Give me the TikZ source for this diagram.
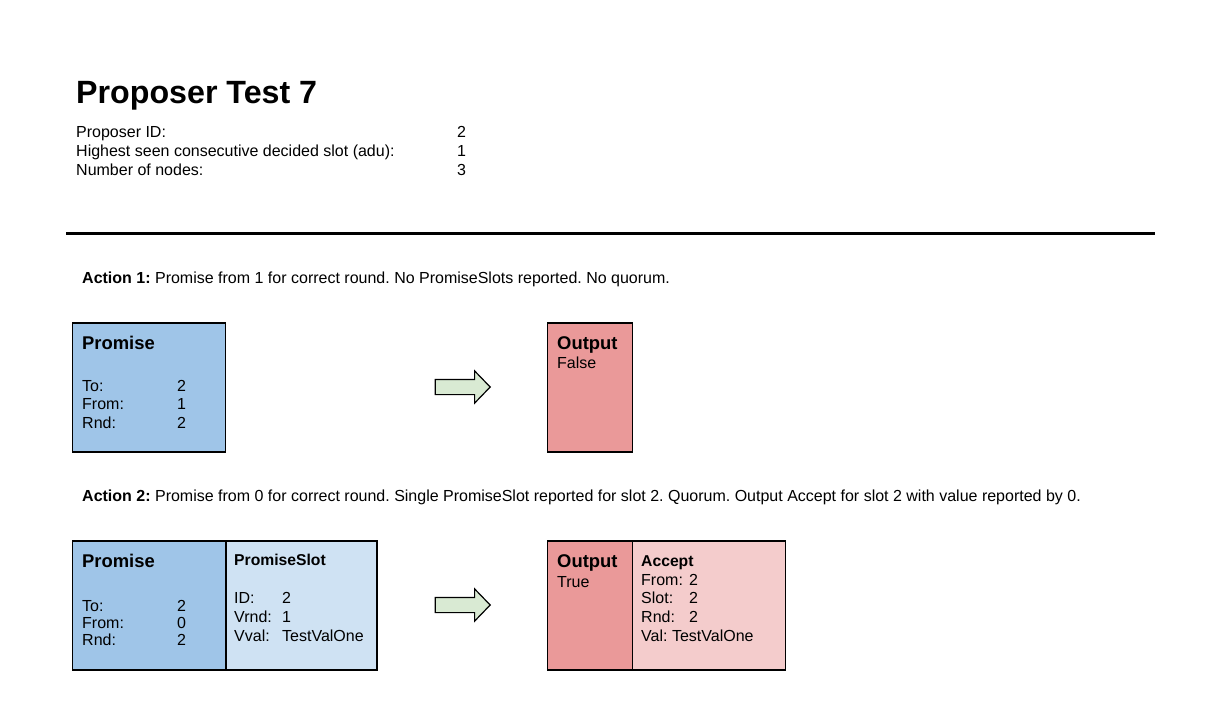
\documentclass[tikz,border=0pt]{standalone}
\usepackage{fontspec}
\setmainfont{Liberation Sans}
\usetikzlibrary{shapes.arrows}
\definecolor{promiseblue}{HTML}{9FC5E8}
\definecolor{slotblue}{HTML}{CFE2F3}
\definecolor{outred}{HTML}{EA9999}
\definecolor{acceptred}{HTML}{F4CCCC}
\definecolor{arrowgreen}{HTML}{D9EAD3}
\frenchspacing
\begin{document}
\begin{tikzpicture}[x=1pt, y=-1pt,
    msgbox/.style={draw=black, line width=1.6pt, anchor=north west, inner sep=0pt, outer sep=0pt, minimum height=129pt},
    txt/.style={anchor=base west, inner sep=0pt, font=\fontsize{16}{19}\selectfont},
    head/.style={anchor=base west, inner sep=0pt, font=\fontsize{18.4}{21}\selectfont\bfseries},
    subhead/.style={anchor=base west, inner sep=0pt, font=\fontsize{15.7}{18}\selectfont\bfseries},
    goesto/.style={single arrow, draw=black, line width=1.2pt, fill=arrowgreen, inner xsep=0pt, inner ysep=7pt,
        minimum height=55pt, single arrow head extend=8.5pt, single arrow tip angle=92}]
    \useasboundingbox (0,0) rectangle (1221,705);
    % header
    \node[anchor=base west, inner sep=0pt, font=\fontsize{32.2}{37}\selectfont\bfseries] (title) at (76,103) {Proposer Test 7};
    \node[txt] (pid) at (76,137.5) {Proposer ID:};
    \node[txt] (adu) at (76,156.5) {Highest seen consecutive decided slot (adu):};
    \node[txt] (nodes) at (76,175.5) {Number of nodes:};
    \node[txt] (pidv) at (457,137.5) {2};
    \node[txt] (aduv) at (457,156.5) {1};
    \node[txt] (nodesv) at (457,175.5) {3};
    \draw[line width=3pt] (66,233) -- (1155,233);

    % action 1
    \node[txt] (act1) at (82,283) {\textbf{Action 1:} Promise from 1 for correct round. No PromiseSlots reported. No quorum.};
    \node[msgbox, fill=promiseblue, minimum width=153pt] (prom1) at (72.5,322.8) {};
    \node[head] (prom1t) at (82,349) {Promise};
    \node[txt] (to1) at (82,391) {To:};
    \node[txt] (from1) at (82,409.5) {From:};
    \node[txt] (rnd1) at (82,428.5) {Rnd:};
    \node[txt] (to1v) at (177,391) {2};
    \node[txt] (from1v) at (177,409.5) {1};
    \node[txt] (rnd1v) at (177,428.5) {2};
    \node[goesto] (arr1) at (459,387) {};
    \node[msgbox, fill=outred, minimum width=85pt] (out1) at (547.5,322.8) {};
    \node[head] (out1t) at (557,349) {Output};
    \node[txt] (out1v) at (557,368.5) {False};

    % action 2
    \node[txt] (act2) at (82,501) {\textbf{Action 2:} Promise from 0 for correct round. Single PromiseSlot reported for slot 2. Quorum. Output Accept for slot 2 with value reported by 0.};
    \node[msgbox, fill=promiseblue, minimum width=153.5pt] (prom2) at (72.5,540.8) {};
    \node[msgbox, fill=slotblue, minimum width=151pt] (slot2) at (prom2.north east) {};
    \node[head] (prom2t) at (82,567.5) {Promise};
    \node[txt] (to2) at (82,611) {To:};
    \node[txt] (from2) at (82,628.5) {From:};
    \node[txt] (rnd2) at (82,645.5) {Rnd:};
    \node[txt] (to2v) at (177,611) {2};
    \node[txt] (from2v) at (177,628.5) {0};
    \node[txt] (rnd2v) at (177,645.5) {2};
    \node[subhead] (slot2t) at (234,565) {PromiseSlot};
    \node[txt] (sid) at (234,603.5) {ID:};
    \node[txt] (svrnd) at (234,622.5) {Vrnd:};
    \node[txt] (svval) at (234,641.5) {Vval:};
    \node[txt] (sidv) at (282,603.5) {2};
    \node[txt] (svrndv) at (282,622.5) {1};
    \node[txt] (svvalv) at (282,641.5) {TestValOne};
    \node[goesto] (arr2) at (459,605) {};
    \node[msgbox, fill=outred, minimum width=85pt] (out2) at (547.5,540.8) {};
    \node[msgbox, fill=acceptred, minimum width=153pt] (acc2) at (out2.north east) {};
    \node[head] (out2t) at (557,567.5) {Output};
    \node[txt] (out2v) at (557,587.5) {True};
    \node[subhead] (acc2t) at (641,566) {Accept};
    \node[txt] (afrom) at (641,585.5) {From:};
    \node[txt] (aslot) at (641,603.5) {Slot:};
    \node[txt] (arnd) at (641,622.5) {Rnd:};
    \node[txt] (aval) at (641,641.5) {Val: TestValOne};
    \node[txt] (afromv) at (689,585.5) {2};
    \node[txt] (aslotv) at (689,603.5) {2};
    \node[txt] (arndv) at (689,622.5) {2};
\end{tikzpicture}
\end{document}
